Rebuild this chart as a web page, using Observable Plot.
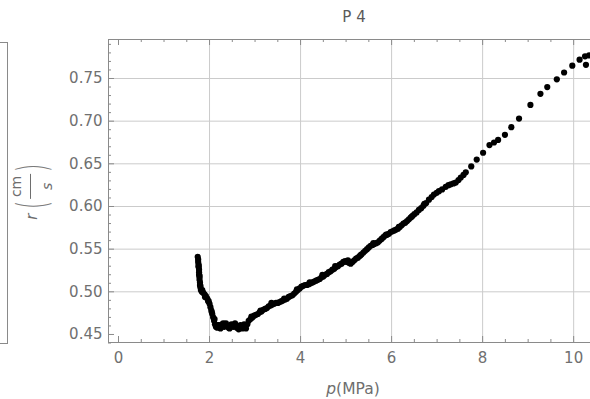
<!DOCTYPE html>
<html>
<head>
<meta charset="utf-8">
<script src="https://cdn.jsdelivr.net/npm/d3@7"></script>
<script src="https://cdn.jsdelivr.net/npm/@observablehq/plot@0.6"></script>
<style>
  html, body { margin: 0; padding: 0; background: #fff; }
  #wrap { position: relative; width: 590px; height: 399px; overflow: hidden; font-family: "DejaVu Sans", sans-serif; color: #6e6e6e; }
  #title { position: absolute; left: 354px; top: 17px; transform: translate(-50%, -50%); font-size: 15px; color: #5a5a5a; white-space: nowrap; }
  #xlab { position: absolute; left: 353px; top: 389px; transform: translate(-50%, -50%); font-size: 15.5px; white-space: nowrap; }
  #ylab { position: absolute; left: 32px; top: 190px; transform: translate(-50%, -50%) rotate(-90deg); font-size: 14px; white-space: nowrap; display: flex; align-items: center; }
  #ylab .r { font-style: italic; font-size: 15px; margin-right: 1px; }
  #ylab .paren { font-size: 40px; font-weight: 200; transform: scaleX(0.55); line-height: 1; display: inline-block; color: #7a7a7a; }
  #ylab .frac { display: inline-flex; flex-direction: column; align-items: center; line-height: 15px; margin: 0 -2px; }
  #ylab .frac .num { border-bottom: 1px solid #6e6e6e; padding: 0 2px 6px 2px; }
  #ylab .frac .den { font-style: italic; padding-top: 9px; }
  #leftpanel { position: absolute; left: -12px; top: 42px; width: 18px; height: 300px; border: 1px solid #8a8a8a; }
  #plot { position: absolute; left: 0; top: 0; }
</style>
</head>
<body>
<div id="wrap">
  <div id="leftpanel"></div>
  <div id="plot"></div>
  <div id="title">P 4</div>
  <div id="ylab"><span class="r">r</span><span class="paren">(</span><span class="frac"><span class="num">cm</span><span class="den">s</span></span><span class="paren">)</span></div>
  <div id="xlab"><i>p</i>(MPa)</div>
</div>
<script>
// Pressure p (MPa) and burning rate r (cm/s)
const pressure = [
  1.74,1.75,1.75,1.76,1.76,1.77,1.77,1.77,1.78,1.78,1.79,1.79,1.80,1.81,1.83,1.86,1.89,1.92,1.95,1.98,
  2.00,2.02,2.04,2.06,2.08,2.10,2.12,2.14,2.17,2.20,2.24,2.28,2.32,2.36,2.40,2.44,2.48,2.52,2.56,2.60,
  2.64,2.68,2.72,2.76,2.80,2.83,2.86,2.90,2.94,2.98,3.02,3.06,3.10,3.14,3.18,3.22,3.26,3.30,3.34,3.38,
  3.42,3.46,3.50,3.54,3.58,3.62,3.66,3.70,3.74,3.78,3.82,3.86,3.90,3.94,3.98,4.02,4.06,4.10,4.14,4.18,
  4.22,4.26,4.30,4.34,4.38,4.42,4.46,4.50,4.54,4.58,4.62,4.66,4.70,4.74,4.78,4.82,4.86,4.90,4.94,4.98,
  5.02,5.06,5.10,5.14,5.18,5.22,5.26,5.30,5.34,5.38,5.42,5.46,5.50,5.54,5.58,5.62,5.66,5.70,5.74,5.78,
  5.82,5.86,5.90,5.94,5.98,6.02,6.06,6.10,6.14,6.18,6.22,6.26,6.30,6.34,6.38,6.42,6.46,6.50,6.55,6.60,
  6.65,6.70,6.76,6.82,6.88,6.93,6.99,7.04,7.11,7.19,7.25,7.30,7.36,7.41,7.47,7.52,7.58,7.63,7.75,7.87,
  8.01,8.15,8.25,8.34,8.49,8.63,8.80,9.05,9.27,9.42,9.63,9.79,9.97,10.13,10.25,10.34,10.27,10.42,
  1.76,1.78,1.80,1.84,1.90,1.97,2.05,2.11,2.19,2.30,2.42,2.54,2.66,2.78,2.92,3.12,3.36,3.64,3.92,4.20,
  4.48,4.76,5.04,5.32,5.60,5.88,6.16,6.44,6.72
];
const rate = [
  0.541,0.538,0.535,0.532,0.529,0.526,0.523,0.520,0.517,0.514,0.511,0.508,0.505,0.502,0.500,0.499,0.497,0.495,0.492,0.489,
  0.486,0.482,0.478,0.474,0.470,0.466,0.462,0.459,0.458,0.461,0.457,0.462,0.459,0.463,0.460,0.457,0.462,0.459,0.463,0.458,
  0.456,0.461,0.457,0.462,0.457,0.462,0.466,0.468,0.470,0.472,0.473,0.474,0.476,0.477,0.479,0.480,0.481,0.483,0.484,0.485,
  0.486,0.487,0.487,0.488,0.489,0.490,0.491,0.492,0.494,0.495,0.496,0.498,0.500,0.502,0.504,0.506,0.507,0.508,0.508,0.509,
  0.510,0.511,0.512,0.513,0.514,0.515,0.517,0.518,0.520,0.521,0.523,0.524,0.526,0.527,0.529,0.530,0.532,0.533,0.535,0.536,
  0.535,0.534,0.533,0.535,0.537,0.539,0.540,0.542,0.544,0.546,0.548,0.550,0.552,0.554,0.555,0.556,0.557,0.558,0.560,0.562,
  0.564,0.566,0.567,0.568,0.570,0.571,0.572,0.573,0.574,0.576,0.578,0.580,0.581,0.583,0.585,0.587,0.589,0.591,0.593,0.596,
  0.598,0.601,0.604,0.608,0.611,0.614,0.616,0.618,0.620,0.623,0.625,0.626,0.627,0.628,0.631,0.634,0.637,0.640,0.647,0.655,
  0.663,0.672,0.675,0.678,0.684,0.693,0.703,0.719,0.732,0.740,0.749,0.757,0.765,0.772,0.776,0.777,0.766,0.779,
  0.530,0.519,0.507,0.502,0.494,0.489,0.476,0.468,0.461,0.463,0.458,0.461,0.459,0.460,0.471,0.478,0.487,0.492,0.503,0.511,
  0.520,0.530,0.537,0.543,0.557,0.567,0.576,0.588,0.603
];
const xTicks = [0, 2, 4, 6, 8, 10];
const xMinorTicks = [0.5,1,1.5,2.5,3,3.5,4.5,5,5.5,6.5,7,7.5,8.5,9,9.5,10.5];
const yTicks = [0.45, 0.50, 0.55, 0.60, 0.65, 0.70, 0.75];
const yMinorTicks = [0.44,0.46,0.47,0.48,0.49,0.51,0.52,0.53,0.54,0.56,0.57,0.58,0.59,0.61,0.62,0.63,0.64,0.66,0.67,0.68,0.69,0.71,0.72,0.73,0.74,0.76,0.77,0.78,0.79];
const xGrid = [2, 4, 6, 8, 10];
const yGrid = [0.50, 0.55, 0.60, 0.65, 0.70, 0.75];

const data = pressure.map((p, i) => ({p, r: rate[i]}));

const W = 590, H = 399, mT = 39, mB = 57, mL = 108, mR = 0;
const fw = W - mL - mR, fh = H - mT - mB;
const gridC = "#cbcbcb", frameC = "#8a8a8a";

const chart = Plot.plot({
  width: W, height: H,
  marginTop: mT, marginBottom: mB, marginLeft: mL, marginRight: mR,
  style: {fontFamily: '"DejaVu Sans", sans-serif', fontSize: "15px", color: "#707070", background: "transparent", overflow: "hidden"},
  x: {domain: [-0.22, 10.37]},
  y: {domain: [0.4406, 0.7957]},
  marks: [
    Plot.gridX(xGrid, {stroke: gridC, strokeOpacity: 1}),
    Plot.gridY(yGrid, {stroke: gridC, strokeOpacity: 1}),
    Plot.ruleX(xTicks, {stroke: frameC, insetTop: fh - 6}),
    Plot.ruleX(xTicks, {stroke: frameC, insetBottom: fh - 6}),
    Plot.ruleX(xMinorTicks, {stroke: frameC, insetTop: fh - 3}),
    Plot.ruleX(xMinorTicks, {stroke: frameC, insetBottom: fh - 3}),
    Plot.ruleY(yTicks, {stroke: frameC, insetRight: fw - 6}),
    Plot.ruleY(yMinorTicks, {stroke: frameC, insetRight: fw - 3}),
    Plot.ruleX([-0.22], {stroke: frameC}),
    Plot.ruleY([0.4406, 0.7957], {stroke: frameC}),
    Plot.axisX({ticks: xTicks, tickSize: 0, tickPadding: 10, label: null, tickFormat: d3.format("d")}),
    Plot.axisY({ticks: yTicks, tickSize: 0, tickPadding: 6, label: null, tickFormat: d3.format(".2f")}),
    Plot.dot(data, {x: "p", y: "r", r: 3.1, fill: "#000", stroke: "none", clip: true})
  ]
});
document.getElementById("plot").appendChild(chart);
</script>
</body>
</html>
